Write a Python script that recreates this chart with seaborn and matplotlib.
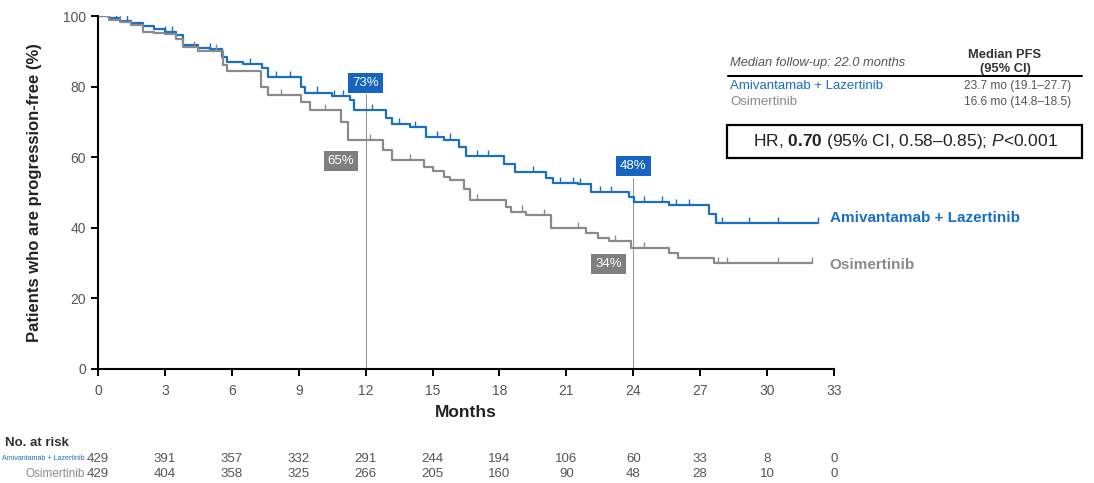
import numpy as np
import pandas as pd
import matplotlib
matplotlib.use("Agg")
import matplotlib.pyplot as plt
import matplotlib.transforms as mtransforms
import seaborn as sns

# Kaplan-Meier step data (months, % progression-free)
ami_times = [0, 0.5, 1.0, 1.5, 2.0, 2.5, 3.0, 3.5, 3.8, 4.5, 5.0, 5.55, 5.8, 6.5, 7.35, 7.6,
             9.1, 9.3, 10.5, 11.3, 11.5, 12.9, 13.2, 14.0, 14.7, 15.5, 16.2, 16.5, 18.2,
             18.7, 20.1, 20.4, 21.5, 22.1, 23.8, 24.05, 25.6, 27.4, 27.7, 32.3]
ami_surv = [100, 99.3, 98.6, 98.0, 97.2, 96.3, 95.5, 94.6, 91.8, 91.0, 90.6, 88.5, 87.0, 86.3,
            85.3, 82.7, 80.0, 78.3, 77.2, 76.3, 73.4, 71.0, 69.4, 68.5, 65.6, 65.0, 63.0,
            60.2, 58.0, 55.8, 54.0, 52.7, 52.3, 50.2, 48.8, 47.3, 46.5, 44.0, 41.4, 41.4]

osi_times = [0, 0.5, 1.0, 1.5, 2.0, 2.5, 3.0, 3.5, 3.8, 4.5, 5.6, 5.8, 7.3, 7.6, 9.1, 9.5,
             10.9, 11.2, 12.8, 13.2, 14.6, 15.0, 15.5, 15.8, 16.4, 16.7, 18.3, 18.5, 19.2,
             20.3, 21.9, 22.4, 22.9, 23.9, 25.6, 26.0, 27.6, 32.0]
osi_surv = [100, 99.0, 98.4, 97.4, 95.6, 95.2, 94.8, 93.5, 91.2, 90.2, 86.0, 84.5, 80.0, 77.6,
            75.5, 73.4, 70.0, 64.9, 62.0, 59.2, 57.2, 56.0, 54.5, 53.5, 51.0, 47.9, 46.0,
            44.6, 43.6, 40.0, 38.5, 37.1, 36.3, 34.2, 33.0, 31.4, 30.0, 30.0]

# Censoring times
ami_censor = [0.8, 1.3, 3.0, 3.3, 5.0, 6.8, 8.0, 8.6, 9.8, 10.6, 11.0, 12.3, 13.5, 14.2,
              15.2, 15.8, 17.0, 17.5, 19.5, 20.7, 21.3, 21.6, 22.5, 23.0, 24.5, 25.3, 25.9,
              26.5, 28.0, 29.2, 30.5, 32.3]
osi_censor = [1.0, 4.3, 5.3, 8.2, 10.2, 12.2, 14.0, 17.0, 19.0, 20.0, 21.5, 23.2, 24.5,
              27.8, 28.2, 30.5, 32.0]

# Landmark estimates
landmark_months = [12, 24]
ami_landmark = [73, 48]
osi_landmark = [65, 34]

# Numbers at risk
risk_months = [0, 3, 6, 9, 12, 15, 18, 21, 24, 27, 30, 33]
ami_risk = [429, 391, 357, 332, 291, 244, 194, 106, 60, 33, 8, 0]
osi_risk = [429, 404, 358, 325, 266, 205, 160, 90, 48, 28, 10, 0]

arm_names = ["Amivantamab + Lazertinib", "Osimertinib"]
median_pfs = ["23.7 mo (19.1\u201327.7)", "16.6 mo (14.8\u201318.5)"]

BLUE = "#1a6fc4"
BOX_BLUE = "#1565c0"
GRAY = "#8a8a8a"
BOX_GRAY = "#7f7f7f"
TXT = "#555555"

sns.set_style("ticks")
plt.rcParams["font.family"] = ["Liberation Sans", "DejaVu Sans"]
plt.rcParams["mathtext.fontset"] = "custom"
plt.rcParams["mathtext.rm"] = "Liberation Sans"
plt.rcParams["mathtext.bf"] = "Liberation Sans:bold"
plt.rcParams["mathtext.it"] = "Liberation Sans:italic"

W, H = 1094, 483
fig = plt.figure(figsize=(W / 100, H / 100), dpi=100)


def fx(px):
    return px / W


def fy(py):
    return 1 - py / H


ax = fig.add_axes([fx(98), fy(369), fx(834) - fx(98), fy(16) - fy(369)])

df = pd.concat([
    pd.DataFrame({"Months": ami_times, "PFS": ami_surv, "Arm": arm_names[0]}),
    pd.DataFrame({"Months": osi_times, "PFS": osi_surv, "Arm": arm_names[1]}),
])

sns.lineplot(data=df, x="Months", y="PFS", hue="Arm", estimator=None, sort=False,
             palette={arm_names[0]: BLUE, arm_names[1]: GRAY},
             drawstyle="steps-post", linewidth=1.6, legend=False, ax=ax)


def step_value(times, surv, t):
    idx = np.searchsorted(times, t, side="right") - 1
    return surv[max(idx, 0)]


for cens, times, surv, col in [(ami_censor, ami_times, ami_surv, BLUE),
                               (osi_censor, osi_times, osi_surv, GRAY)]:
    cy = [step_value(times, surv, t) for t in cens]
    ax.plot(cens, np.array(cy) + 0.9, linestyle="none", marker="|", markersize=5,
            markeredgewidth=1.0, color=col)

# Landmark reference lines and labels
line_tops = [78, 54]
for m, top in zip(landmark_months, line_tops):
    ax.plot([m, m], [0, top], color="#9a9a9a", linewidth=0.8, zorder=1)

label_pos_ami = [(12.0, 81.0), (24.0, 57.5)]
label_pos_osi = [(10.9, 59.0), (22.9, 29.8)]
for (x, y), v in zip(label_pos_ami, ami_landmark):
    ax.text(x, y, f"{v}%", color="white", fontsize=9.5, ha="center", va="center",
            bbox=dict(boxstyle="square,pad=0.3", fc=BOX_BLUE, ec="none"), zorder=5)
for (x, y), v in zip(label_pos_osi, osi_landmark):
    ax.text(x, y, f"{v}%", color="white", fontsize=9.5, ha="center", va="center",
            bbox=dict(boxstyle="square,pad=0.3", fc=BOX_GRAY, ec="none"), zorder=5)

ax.set_xlim(0, 33)
ax.set_ylim(0, 100)
ax.set_xticks(range(0, 34, 3))
ax.set_yticks(range(0, 101, 20))
ax.tick_params(axis="both", labelsize=10, labelcolor=TXT, length=5, width=1.4,
               color="black", direction="out")
ax.tick_params(axis="x", pad=6)
for s in ["left", "bottom"]:
    ax.spines[s].set_linewidth(1.5)
    ax.spines[s].set_color("black")
sns.despine(ax=ax)
ax.set_xlabel("Months", fontsize=12.5, fontweight="bold", labelpad=5, color="#222222")
ax.set_ylabel("Patients who are progression-free (%)", fontsize=12, fontweight="bold",
              labelpad=15, color="#222222")

# Curve end labels
ax.text(32.8, 42.8, arm_names[0], color=BLUE, fontsize=11, fontweight="bold",
        va="center", ha="left", clip_on=False)
ax.text(32.8, 29.5, arm_names[1], color=GRAY, fontsize=11, fontweight="bold",
        va="center", ha="left", clip_on=False)

# Median PFS summary
fig.text(fx(730), fy(63), "Median follow-up: 22.0 months", fontsize=9.3, style="italic",
         color=TXT, va="center", ha="left")
fig.text(fx(1005), fy(62), "Median PFS\n(95% CI)", fontsize=9.3, fontweight="bold",
         color="#333333", va="center", ha="center", linespacing=1.15)
fig.add_artist(plt.Line2D([fx(728), fx(1082)], [fy(76), fy(76)], color="black",
                          linewidth=1.5))
fig.text(fx(730), fy(86), arm_names[0], fontsize=9.5, color=BLUE, va="center", ha="left")
fig.text(fx(730), fy(102), arm_names[1], fontsize=9.5, color=GRAY, va="center", ha="left")
fig.text(fx(1018), fy(86), median_pfs[0], fontsize=8.6, color=TXT, va="center",
         ha="center")
fig.text(fx(1018), fy(102), median_pfs[1], fontsize=8.6, color=TXT, va="center",
         ha="center")
fig.add_artist(plt.Rectangle((fx(727), fy(158)), fx(1082) - fx(727), fy(125) - fy(158),
                             fill=False, ec="black", linewidth=1.6))
fig.text(fx(905), fy(141.5), "HR, $\\mathbf{0.70}$ (95% CI, 0.58\u20130.85); $\\it{P}$<0.001",
         fontsize=12.5, color="#222222", va="center", ha="center")

# Numbers at risk table
trans = mtransforms.blended_transform_factory(ax.transData, fig.transFigure)
fig.text(fx(5), fy(443), "No. at risk", fontsize=9.5, fontweight="bold", color="#333333",
         va="center", ha="left")
fig.text(fx(85), fy(459), arm_names[0], fontsize=5.1, color=BLUE, va="center", ha="right")
fig.text(fx(85), fy(474), arm_names[1], fontsize=8.5, color=GRAY, va="center", ha="right")
for m, a, o in zip(risk_months, ami_risk, osi_risk):
    ax.text(m, fy(459), str(a), transform=trans, fontsize=9.5, color=TXT,
            ha="center", va="center", clip_on=False)
    ax.text(m, fy(474), str(o), transform=trans, fontsize=9.5, color=TXT,
            ha="center", va="center", clip_on=False)

fig.savefig("out.png", dpi=100)
